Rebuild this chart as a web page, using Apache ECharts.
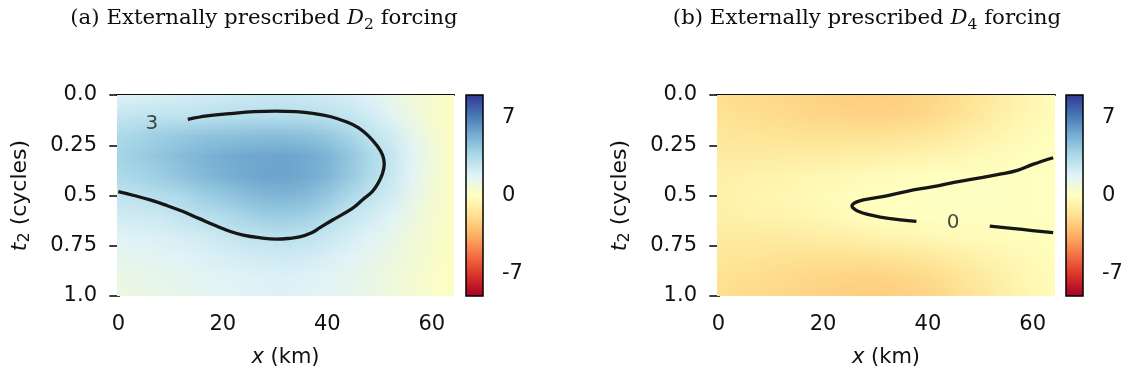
<!DOCTYPE html>
<html>
<head>
<meta charset="utf-8">
<script src="https://cdn.jsdelivr.net/npm/echarts@6/dist/echarts.min.js"></script>
<style>
html,body{margin:0;padding:0;background:#fff;}
#c{width:1128px;height:379px;}
</style>
</head>
<body>
<div id="c"></div>
<script>
// ---------- data ----------
const X_TICKS = [0, 20, 40, 60];
const T_TICKS = [0, 0.25, 0.5, 0.75, 1];
const T_TICK_LABELS = ['0.0', '0.25', '0.5', '0.75', '1.0'];
const CB_TICKS = [-7, 0, 7];
const CB_TICK_LABELS = ['-7', '0', '7'];
const CB_RANGE = [-9, 9];

// grid sample positions of the estimated fields
const XS = [0, 4, 8, 12, 16, 20, 24, 28, 32, 36, 40, 44, 48, 52, 56, 60, 64];
const TS = [0, 0.1, 0.2, 0.3, 0.4, 0.5, 0.6, 0.7, 0.8, 0.9, 1.0];

// (a) D2 forcing, rows = TS, columns = XS
const FIELD_A = [
  [1.9, 2.0, 2.1, 2.2, 2.3, 2.4, 2.5, 2.55, 2.55, 2.5, 2.35, 2.15, 1.8, 1.35, 0.85, 0.4, 0.1],
  [2.7, 2.85, 2.93, 2.9, 3.0, 3.1, 3.2, 3.26, 3.26, 3.2, 3.0, 2.75, 2.3, 1.75, 1.1, 0.5, 0.12],
  [3.52, 3.78, 4.04, 4.24, 4.43, 4.56, 4.63, 4.69, 4.69, 4.56, 4.3, 3.78, 3.0, 2.35, 1.5, 0.7, 0.18],
  [3.78, 4.1, 4.43, 4.76, 5.08, 5.34, 5.54, 5.6, 5.67, 5.47, 5.08, 4.43, 3.59, 2.75, 1.75, 0.85, 0.2],
  [3.52, 3.78, 4.1, 4.5, 4.89, 5.21, 5.47, 5.67, 5.67, 5.47, 5.02, 4.3, 3.46, 2.65, 1.7, 0.8, 0.2],
  [2.9, 3.07, 3.33, 3.52, 3.98, 4.3, 4.69, 4.95, 5.02, 4.82, 4.3, 3.59, 2.9, 2.3, 1.45, 0.7, 0.18],
  [2.3, 2.4, 2.5, 2.85, 3.13, 3.39, 3.78, 4.04, 4.1, 3.91, 3.39, 2.75, 2.3, 1.8, 1.15, 0.55, 0.15],
  [1.8, 1.9, 2.0, 2.15, 2.35, 2.6, 2.9, 3.07, 3.13, 2.95, 2.6, 2.2, 1.8, 1.4, 0.9, 0.45, 0.12],
  [1.45, 1.55, 1.65, 1.8, 1.95, 2.1, 2.25, 2.35, 2.4, 2.3, 2.05, 1.75, 1.45, 1.15, 0.75, 0.4, 0.1],
  [1.2, 1.3, 1.4, 1.5, 1.65, 1.75, 1.85, 1.9, 1.95, 1.85, 1.7, 1.5, 1.25, 0.95, 0.65, 0.35, 0.1],
  [1.1, 1.2, 1.3, 1.4, 1.55, 1.7, 1.8, 1.85, 1.85, 1.8, 1.65, 1.45, 1.2, 0.95, 0.6, 0.35, 0.1]
];

// (b) D4 forcing, rows = TS, columns = XS
const FIELD_B = [
  [-1.8, -1.9, -2.0, -2.1, -2.2, -2.3, -2.4, -2.45, -2.45, -2.35, -2.2, -1.95, -1.6, -1.2, -0.8, -0.45, -0.2],
  [-1.65, -1.75, -1.85, -1.95, -2.05, -2.15, -2.2, -2.25, -2.25, -2.15, -2.0, -1.75, -1.4, -1.05, -0.7, -0.38, -0.16],
  [-1.4, -1.45, -1.5, -1.55, -1.6, -1.6, -1.65, -1.65, -1.6, -1.5, -1.35, -1.15, -0.9, -0.65, -0.4, -0.2, -0.06],
  [-1.1, -1.1, -1.1, -1.1, -1.05, -1.0, -0.95, -0.9, -0.8, -0.7, -0.6, -0.5, -0.35, -0.22, -0.1, -0.02, 0.01],
  [-0.9, -0.8, -0.7, -0.65, -0.55, -0.45, -0.35, -0.25, -0.15, -0.08, -0.02, 0.02, 0.04, 0.05, 0.05, 0.04, 0.03],
  [-0.8, -0.68, -0.55, -0.45, -0.35, -0.22, -0.1, -0.02, 0.02, 0.05, 0.08, 0.1, 0.1, 0.1, 0.08, 0.06, 0.04],
  [-0.9, -0.8, -0.7, -0.65, -0.55, -0.4, -0.22, -0.05, 0.0, 0.02, 0.03, 0.05, 0.05, 0.06, 0.05, 0.04, 0.03],
  [-1.1, -1.1, -1.1, -1.1, -1.05, -0.95, -0.85, -0.7, -0.55, -0.45, -0.35, -0.25, -0.2, -0.15, -0.08, -0.03, 0.0],
  [-1.4, -1.45, -1.5, -1.6, -1.65, -1.65, -1.65, -1.6, -1.5, -1.4, -1.25, -1.05, -0.8, -0.6, -0.4, -0.22, -0.08],
  [-1.65, -1.75, -1.85, -1.95, -2.05, -2.15, -2.2, -2.25, -2.2, -2.1, -1.95, -1.7, -1.35, -1.0, -0.65, -0.36, -0.15],
  [-1.8, -1.9, -2.0, -2.1, -2.2, -2.3, -2.4, -2.45, -2.45, -2.35, -2.2, -1.95, -1.6, -1.2, -0.8, -0.45, -0.2]
];

// contour lines [x (km), t2 (cycles)]
const CONTOUR_A3 = [
  [13.3, 0.121], [17, 0.104], [22, 0.091], [26, 0.083], [30, 0.080], [34, 0.083], [37.2, 0.091],
  [40.5, 0.107], [43.6, 0.133], [46, 0.163], [48, 0.207], [49.6, 0.255], [50.6, 0.3],
  [50.9, 0.345], [50.5, 0.396], [49.7, 0.44], [48.6, 0.481], [46.8, 0.52], [44.8, 0.564], [41.0, 0.622],
  [38.6, 0.66], [37.0, 0.685], [34.7, 0.706], [32.5, 0.714], [30.2, 0.717], [27, 0.71], [23.9, 0.697],
  [21.3, 0.678], [18.8, 0.652], [15.5, 0.615], [12.4, 0.580], [9.3, 0.55], [6.1, 0.522], [3, 0.5], [0, 0.481]
];
const CONTOUR_B0_1 = [
  [63.9, 0.312], [60, 0.345], [56.9, 0.376], [53.5, 0.395], [50.5, 0.41], [45, 0.435], [41, 0.456],
  [36, 0.479], [32.1, 0.502], [29, 0.516], [27, 0.527], [25.8, 0.54], [25.5, 0.552], [25.9, 0.566],
  [26.8, 0.58], [28.5, 0.594], [30.9, 0.607], [34, 0.619], [37.8, 0.629]
];
const CONTOUR_B0_2 = [[51.8, 0.652], [58, 0.669], [63.9, 0.685]];
const LABEL_A = [{ value: [6.4, 0.141], name: '3' }];
const LABEL_B = [{ value: [44.8, 0.638], name: '0' }];

// ---------- style ----------
const CMAP = ['#a50026', '#d73027', '#f46d43', '#fdae61', '#fee090', '#ffffbf',
              '#e0f3f8', '#abd9e9', '#74add1', '#4575b4', '#313695'];
const INK = '#111';
const SANS = 'DejaVu Sans';
const SERIF = 'DejaVu Serif';
const FS = 21;

function colorOf(v) {
  const n = Math.max(0, Math.min(1, (v - CB_RANGE[0]) / (CB_RANGE[1] - CB_RANGE[0])));
  return echarts.color.lerp(n, CMAP);
}

// small raster: one pixel per estimated sample, smoothed when scaled (like imshow interpolation)
function fieldCanvas(field) {
  const cv = document.createElement('canvas');
  cv.width = XS.length; cv.height = TS.length;
  const ctx = cv.getContext('2d');
  for (let i = 0; i < TS.length; i++) {
    for (let j = 0; j < XS.length; j++) {
      ctx.fillStyle = colorOf(field[i][j]);
      ctx.fillRect(j, i, 1, 1);
    }
  }
  return cv;
}

function heatSeries(field, xi, yi) {
  const img = fieldCanvas(field);
  const dx = XS[1] - XS[0], dt = TS[1] - TS[0];
  const extent = [[XS[0] - dx / 2, TS[0] - dt / 2, XS[XS.length - 1] + dx / 2, TS[TS.length - 1] + dt / 2]];
  return {
    type: 'custom', xAxisIndex: xi, yAxisIndex: yi, data: extent, silent: true, z: 1, clip: true,
    encode: { x: [0, 2], y: [1, 3] },
    renderItem: function (params, api) {
      const a = api.coord([api.value(0), api.value(1)]);
      const b = api.coord([api.value(2), api.value(3)]);
      return { type: 'image', style: { image: img, x: Math.min(a[0], b[0]), y: Math.min(a[1], b[1]),
        width: Math.abs(b[0] - a[0]), height: Math.abs(b[1] - a[1]) } };
    }
  };
}

function cbRender(params, api) {
  const a = api.coord([api.value(0), api.value(1)]);
  const b = api.coord([api.value(2), api.value(3)]);
  const stops = CMAP.slice().reverse().map((c, i) => ({ offset: i / (CMAP.length - 1), color: c }));
  return {
    type: 'rect',
    shape: { x: Math.min(a[0], b[0]), y: Math.min(a[1], b[1]), width: Math.abs(b[0] - a[0]), height: Math.abs(b[1] - a[1]) },
    style: { fill: new echarts.graphic.LinearGradient(0, 0, 0, 1, stops), stroke: '#000', lineWidth: 1.5 }
  };
}

const tickStyle = { show: true, inside: false, length: 9, lineStyle: { color: '#000', width: 1.5 } };
const lineStyle = { show: true, lineStyle: { color: '#000', width: 1.6 } };
const labelFont = { fontFamily: SANS, fontSize: FS, color: INK };

function xMain(gi) {
  return {
    type: 'value', gridIndex: gi, position: 'bottom', min: -0.25, max: 64.25,
    axisLine: lineStyle,
    axisTick: Object.assign({ customValues: X_TICKS }, tickStyle),
    axisLabel: Object.assign({ customValues: X_TICKS, margin: 18 }, labelFont),
    splitLine: { show: false },
    name: '{i|x} (km)', nameLocation: 'middle', nameGap: 51,
    nameTextStyle: { fontFamily: SANS, fontSize: FS, color: INK, rich: { i: { fontFamily: SANS, fontSize: FS, fontStyle: 'italic', color: INK } } }
  };
}
function xTop(gi) {
  return { type: 'value', gridIndex: gi, position: 'top', min: -0.25, max: 64.25,
    axisLine: lineStyle, axisTick: { show: false }, axisLabel: { show: false }, splitLine: { show: false } };
}
function yMain(gi) {
  return {
    type: 'value', gridIndex: gi, position: 'left', min: 0, max: 1, inverse: true,
    axisLine: lineStyle,
    axisTick: Object.assign({ customValues: T_TICKS }, tickStyle),
    axisLabel: Object.assign({ customValues: T_TICKS, margin: 20, padding: [5, 0, 0, 0],
      formatter: v => { const k = T_TICKS.findIndex(tv => Math.abs(tv - v) < 1e-6); return k >= 0 ? T_TICK_LABELS[k] : ''; } }, labelFont),
    splitLine: { show: false },
    name: '{i|t}{s|2} (cycles)', nameLocation: 'middle', nameGap: 84, nameRotate: 90,
    nameTextStyle: { fontFamily: SANS, fontSize: 22, color: INK, lineHeight: 26,
      rich: { i: { fontFamily: SANS, fontSize: 22, fontStyle: 'italic', color: INK, lineHeight: 26 },
              s: { fontFamily: SANS, fontSize: 16, color: INK, lineHeight: 17, verticalAlign: 'bottom' } } }
  };
}
function yRight(gi) {
  return { type: 'value', gridIndex: gi, position: 'right', min: 0, max: 1, inverse: true,
    axisLine: lineStyle, axisTick: { show: false }, axisLabel: { show: false }, splitLine: { show: false } };
}
function xCb(gi) {
  return { type: 'value', gridIndex: gi, min: 0, max: 1, show: false };
}
function yCb(gi) {
  return {
    type: 'value', gridIndex: gi, position: 'right', min: CB_RANGE[0], max: CB_RANGE[1],
    axisLine: { show: false },
    axisTick: Object.assign({ customValues: CB_TICKS }, tickStyle),
    axisLabel: Object.assign({ customValues: CB_TICKS, margin: 19, padding: [4, 0, 0, 0],
      formatter: v => { const k = CB_TICKS.indexOf(v); return k >= 0 ? CB_TICK_LABELS[k] : ''; } }, labelFont),
    splitLine: { show: false }
  };
}

function contourSeries(data, xi, yi) {
  return { type: 'line', xAxisIndex: xi, yAxisIndex: yi, data: data, showSymbol: false, symbol: 'none',
    smooth: 0.4, silent: true, z: 5, clip: true,
    lineStyle: { color: '#161616', width: 3.3, cap: 'butt' } };
}
function labelSeries(data, xi, yi) {
  return { type: 'scatter', xAxisIndex: xi, yAxisIndex: yi, data: data, symbolSize: 1, silent: true, z: 6,
    itemStyle: { color: 'rgba(0,0,0,0)' },
    label: { show: true, position: 'inside', formatter: '{b}', fontFamily: SANS, fontSize: 20, color: '#1a1a1a' } };
}

function titleText(x, letter, sub) {
  return {
    type: 'text', x: x, y: 18, z: 10,
    style: {
      text: '{n|' + letter + ' Externally prescribed }{d|D}{s|' + sub + '}{n| forcing}',
      align: 'center', verticalAlign: 'middle',
      rich: {
        n: { fontFamily: SERIF, fontSize: 21.3, lineHeight: 30, fill: '#0d0d0d' },
        d: { fontFamily: SERIF, fontSize: 21.3, lineHeight: 30, fontStyle: 'italic', fill: '#0d0d0d' },
        s: { fontFamily: SERIF, fontSize: 15.5, lineHeight: 18, verticalAlign: 'bottom', fill: '#0d0d0d' }
      }
    }
  };
}

const chart = echarts.init(document.getElementById('c'), null, { renderer: 'canvas', width: 1128, height: 379 });
chart.setOption({
  backgroundColor: '#fff',
  animation: false,
  grid: [
    { left: 117, top: 95, width: 337, height: 201 },
    { left: 717, top: 95, width: 338, height: 201 },
    { left: 466, top: 95, width: 17, height: 201 },
    { left: 1066, top: 95, width: 17, height: 201 }
  ],
  xAxis: [xMain(0), xTop(0), xMain(1), xTop(1), xCb(2), xCb(3)],
  yAxis: [yMain(0), yRight(0), yMain(1), yRight(1), yCb(2), yCb(3)],
  graphic: [titleText(264, '(a)', '2'), titleText(867, '(b)', '4')],
  series: [
    heatSeries(FIELD_A, 0, 0),
    contourSeries(CONTOUR_A3, 0, 0),
    labelSeries(LABEL_A, 0, 0),
    heatSeries(FIELD_B, 2, 2),
    contourSeries(CONTOUR_B0_1, 2, 2),
    contourSeries(CONTOUR_B0_2, 2, 2),
    labelSeries(LABEL_B, 2, 2),
    { type: 'custom', xAxisIndex: 4, yAxisIndex: 4, data: [[0, CB_RANGE[0], 1, CB_RANGE[1]]], renderItem: cbRender, silent: true },
    { type: 'custom', xAxisIndex: 5, yAxisIndex: 5, data: [[0, CB_RANGE[0], 1, CB_RANGE[1]]], renderItem: cbRender, silent: true }
  ]
});
</script>
</body>
</html>
